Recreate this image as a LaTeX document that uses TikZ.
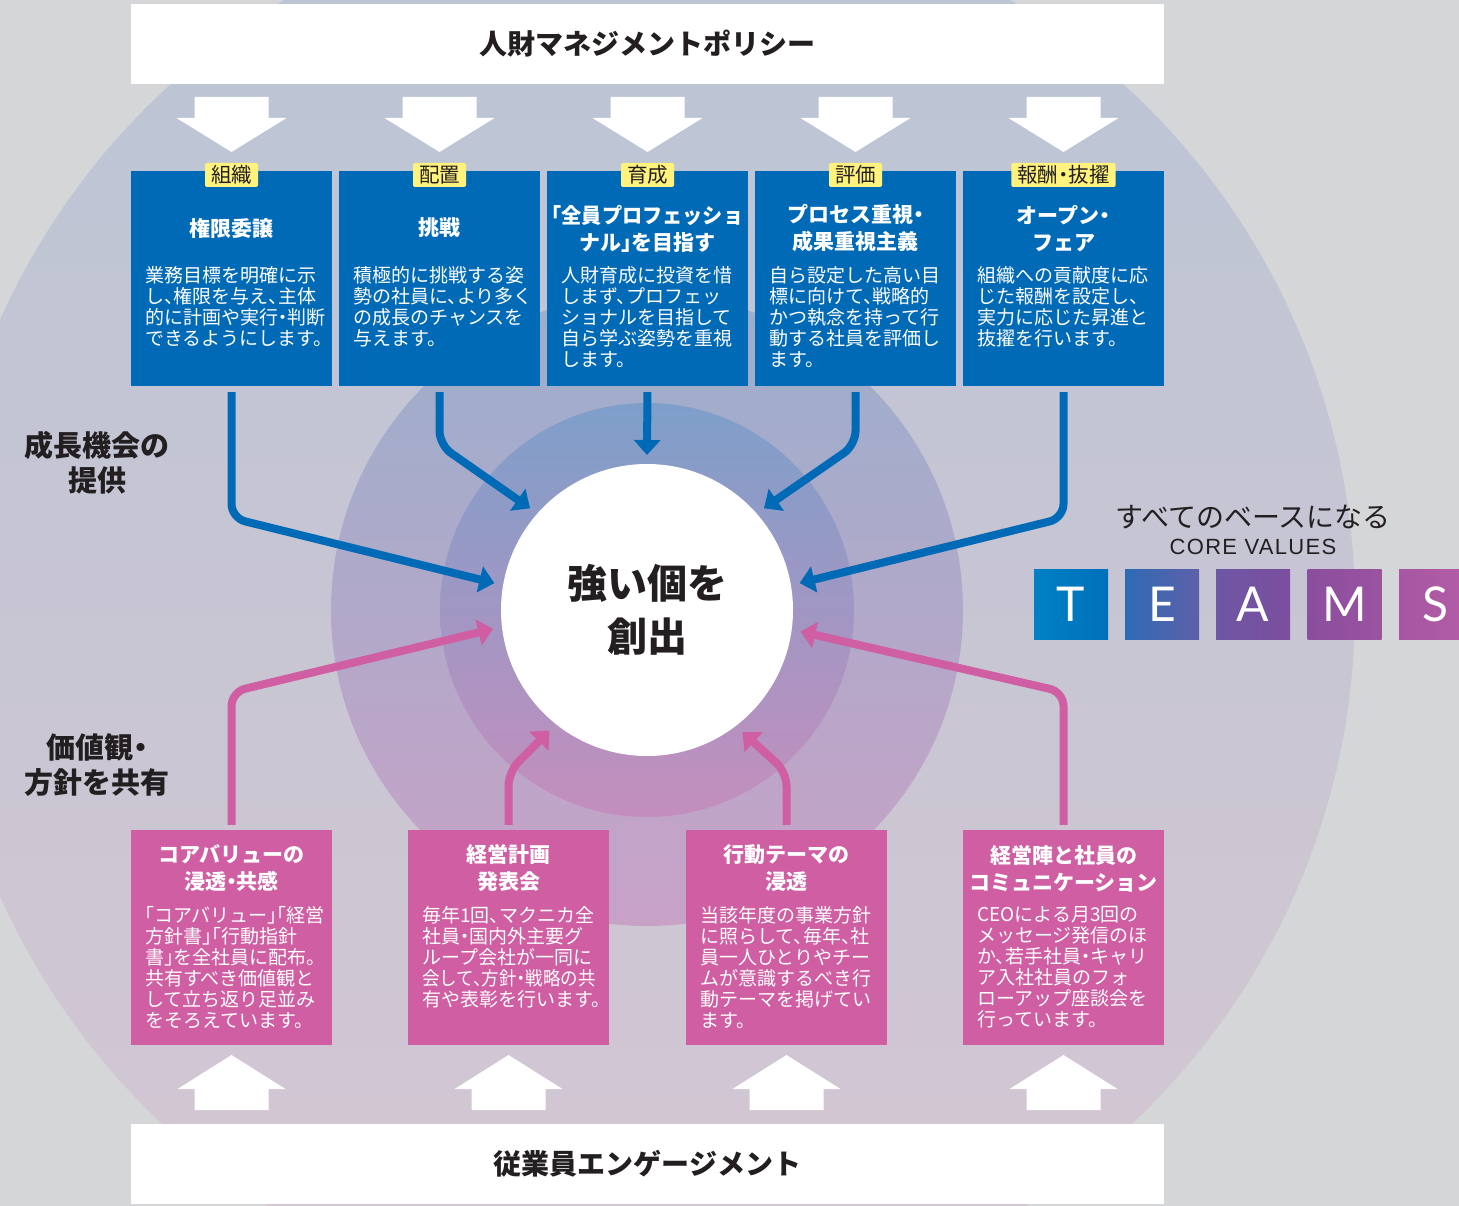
\documentclass[tikz,border=0pt]{standalone}
\usepackage{fontspec}
\usepackage{graphicx}
\usetikzlibrary{arrows.meta}
\setmainfont{Noto Sans CJK JP}[RawFeature=+halt]
\newfontfamily\latinfont{Lato}
\newfontfamily\corefont{Liberation Sans}[LetterSpace=6]
\definecolor{bgray}{HTML}{D5D6D8}
\definecolor{cblue}{HTML}{006AB6}
\definecolor{cpink}{HTML}{CF5EA2}
\definecolor{cyellow}{HTML}{FFF27D}
\definecolor{ctext}{HTML}{231F20}
\definecolor{ringAtop}{HTML}{B9C5D4}
\definecolor{ringAbot}{HTML}{D6C6D3}
\definecolor{ringBtop}{HTML}{9BAFCC}
\definecolor{ringBbot}{HTML}{C8A2C6}
\definecolor{ringCtop}{HTML}{7E9FCA}
\definecolor{ringCbot}{HTML}{C48EBD}
\definecolor{tmA}{HTML}{0080C6}
\definecolor{tmB}{HTML}{0070B9}
\definecolor{tmC}{HTML}{2E6BB5}
\definecolor{tmD}{HTML}{5E60A8}
\definecolor{tmE}{HTML}{6E57A4}
\definecolor{tmF}{HTML}{7B4E9E}
\definecolor{tmG}{HTML}{8A4E9E}
\definecolor{tmH}{HTML}{9A539F}
\definecolor{tmI}{HTML}{A656A3}
\definecolor{tmJ}{HTML}{B45DA6}
\begin{document}
\begin{tikzpicture}[x=1pt,y=-1pt,
  bluebox/.style={fill=cblue, minimum width=201pt, minimum height=215pt, inner sep=0pt},
  pinkbox/.style={fill=cpink, minimum width=201pt, minimum height=215pt, inner sep=0pt},
  tagbox/.style={fill=cyellow, rounded corners=2pt, inner xsep=6pt, inner ysep=0pt, minimum height=24pt, text=ctext, font=\fontsize{20.5}{21}\selectfont},
  cardtitle/.style={text=white, align=center, inner sep=0pt, font=\bfseries\fontsize{21}{27}\selectfont},
  cardbody/.style={text=white, align=left, inner sep=0pt, anchor=north west, font=\fontsize{19}{21}\selectfont},
  bar/.style={fill=white, minimum width=1033pt, minimum height=80pt, inner sep=0pt, text=ctext, font=\bfseries\fontsize{28}{30}\selectfont},
  sidelabel/.style={text=ctext, align=center, inner sep=0pt, font=\bfseries\fontsize{29}{35}\selectfont},
  blueflow/.style={draw=cblue, line width=8pt, rounded corners=14pt, -{Triangle[width=26pt,length=15pt]}},
  pinkflow/.style={draw=cpink, line width=8pt, rounded corners=14pt, -{Triangle[width=26pt,length=15pt]}},
  blockarrow/.style={fill=white},
  letterbox/.style={minimum width=74pt, minimum height=70pt, inner sep=0pt, text=white, font=\latinfont\fontsize{48}{48}\selectfont},
]
\useasboundingbox (0,0) rectangle (1459,1206);
\fill[bgray] (0,0) rectangle (1459,1206);
\begin{scope}
\clip (0,0) rectangle (1459,1206);
\shade[top color=ringAtop, bottom color=ringAbot] (647,608) circle (708);
\shade[top color=ringBtop, bottom color=ringBbot] (647,610) circle (316);
\shade[top color=ringCtop, bottom color=ringCbot] (647,610) circle (207);
\end{scope}

% block arrows
\foreach \cx in {231.5,439.5,647.5,855.5,1063.5}
  \fill[blockarrow] (\cx-37,97) -- (\cx+37,97) -- (\cx+37,118) -- (\cx+55,118) -- (\cx,152) -- (\cx-55,118) -- (\cx-37,118) -- cycle;
\foreach \cx in {231.5,508.5,786.5,1063.5}
  \fill[blockarrow] (\cx-37,1110) -- (\cx+37,1110) -- (\cx+37,1089) -- (\cx+54,1089) -- (\cx,1055) -- (\cx-54,1089) -- (\cx-37,1089) -- cycle;

% bars
\node[bar] (top) at (647.5,44) {人財マネジメントポリシー};
\node[bar] (bottom) at (647.5,1163.5) {従業員エンゲージメント};

% blue cards
\node[bluebox] (b1) at (231.5,278.5) {};
\node[bluebox] (b2) at (439.5,278.5) {};
\node[bluebox] (b3) at (647.5,278.5) {};
\node[bluebox] (b4) at (855.5,278.5) {};
\node[bluebox] (b5) at (1063.5,278.5) {};
\node[tagbox] (g1) at (231.5,175) {組織};
\node[tagbox] (g2) at (439.5,175) {配置};
\node[tagbox] (g3) at (647.5,175) {育成};
\node[tagbox] (g4) at (855.5,175) {評価};
\node[tagbox] (g5) at (1063.5,175) {報酬・抜擢};
\node[cardtitle] (t1) at (231.5,228) {権限委譲};
\node[cardtitle] (t2) at (439.5,228) {挑戦};
\node[cardtitle] (t3) at (647.5,228.5) {\scalebox{0.96}[1]{「全員プロフェッショ}\\ナル」を目指す};
\node[cardtitle] (t4) at (855.5,228.5) {プロセス重視・\\成果重視主義};
\node[cardtitle] (t5) at (1063.5,228.5) {オープン・\\フェア};
\node[cardbody] (d1) at (145,266) {業務目標を明確に示\\し、権限を与え、主体\\的に計画や実行・判断\\できるようにします。};
\node[cardbody] (d2) at (353,266) {積極的に挑戦する姿\\勢の社員に、より多く\\の成長のチャンスを\\与えます。};
\node[cardbody] (d3) at (561,266) {人財育成に投資を惜\\しまず、プロフェッ\\ショナルを目指して\\自ら学ぶ姿勢を重視\\します。};
\node[cardbody] (d4) at (769,266) {自ら設定した高い目\\標に向けて、戦略的\\かつ執念を持って行\\動する社員を評価し\\ます。};
\node[cardbody] (d5) at (977,266) {組織への貢献度に応\\じた報酬を設定し、\\実力に応じた昇進と\\抜擢を行います。};

% pink cards
\node[pinkbox] (p1) at (231.5,937.5) {};
\node[pinkbox] (p2) at (508.5,937.5) {};
\node[pinkbox] (p3) at (786.5,937.5) {};
\node[pinkbox] (p4) at (1063.5,937.5) {};
\node[cardtitle] (s1) at (231.5,868.5) {コアバリューの\\浸透・共感};
\node[cardtitle] (s2) at (508.5,868.5) {経営計画\\発表会};
\node[cardtitle] (s3) at (786.5,868.5) {行動テーマの\\浸透};
\node[cardtitle] (s4) at (1063.5,868.5) {経営陣と社員の\\コミュニケーション};
\node[cardbody] (e1) at (145,906.5) {「コアバリュー」「経営\\方針書」「行動指針\\書」を全社員に配布。\\共有すべき価値観と\\して立ち返り足並み\\をそろえています。};
\node[cardbody] (e2) at (422,906.5) {毎年1回、マクニカ全\\社員・国内外主要グ\\ループ会社が一同に\\\scalebox{0.92}[1]{会して、方針・戦略の共}\\有や表彰を行います。};
\node[cardbody] (e3) at (700,906.5) {当該年度の事業方針\\に照らして、毎年、社\\員一人ひとりやチー\\ムが意識するべき行\\動テーマを掲げてい\\ます。};
\node[cardbody] (e4) at (977,906.5) {CEOによる月3回の\\メッセージ発信のほ\\か、若手社員・キャリ\\ア入社社員のフォ\\ローアップ座談会を\\行っています。};

% core
\node[circle, fill=white, minimum size=292pt, inner sep=0pt, outer sep=9pt, align=center, text=ctext, font=\bfseries\fontsize{40}{53}\selectfont] (core) at (647,610) {強い個を\\創出};

% connectors
\coordinate (k1) at (231.5,518);
\coordinate (k2) at (439.5,445);
\coordinate (k4) at (855.5,445);
\coordinate (k5) at (1063.5,518);
\draw[blueflow, shorten <=6pt] (b1.south) -- (k1) -- (core.170);
\draw[blueflow, shorten <=6pt] (b2.south) -- (k2) -- (core.139);
\draw[blueflow, shorten <=6pt] (b3.south) -- (core.90);
\draw[blueflow, shorten <=6pt] (b4.south) -- (k4) -- (core.41);
\draw[blueflow, shorten <=6pt] (b5.south) -- (k5) -- (core.10);
\coordinate (q1) at (231.5,692);
\coordinate (q2) at (508.5,772);
\coordinate (q3) at (786.5,772);
\coordinate (q4) at (1063.5,692);
\draw[pinkflow, shorten <=5pt] (p1.north) -- (q1) -- (core.187.5);
\draw[pinkflow, shorten <=5pt] (p2.north) -- (q2) -- (core.231.5);
\draw[pinkflow, shorten <=5pt] (p3.north) -- (q3) -- (core.308.5);
\draw[pinkflow, shorten <=5pt] (p4.north) -- (q4) -- (core.352.5);

% side labels
\node[sidelabel] (l1) at (97,462.5) {成長機会の\\提供};
\node[sidelabel] (l2) at (97,765.5) {価値観・\\方針を共有};

% core values
\node[text=ctext, inner sep=0pt, font=\fontsize{28}{30}\selectfont] (cv1) at (1253,517) {すべてのベースになる};
\node[text=ctext, inner sep=0pt, font=\corefont\fontsize{22}{26}\selectfont] (cv2) at (1253,547) {CORE VALUES};
\node[letterbox, left color=tmA, right color=tmB] (lt) at (1071,604.5) {T};
\node[letterbox, left color=tmC, right color=tmD] (le) at (1162,604.5) {E};
\node[letterbox, left color=tmE, right color=tmF] (la) at (1253,604.5) {A};
\node[letterbox, left color=tmG, right color=tmH] (lm) at (1344.5,604.5) {M};
\node[letterbox, left color=tmI, right color=tmJ] (ls) at (1436,604.5) {S};
\end{tikzpicture}
\end{document}
